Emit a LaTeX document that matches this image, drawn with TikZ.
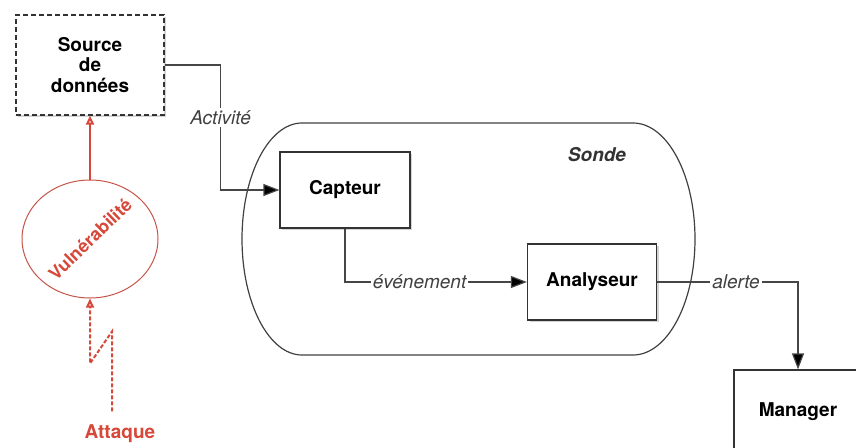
\documentclass[tikz,border=0pt]{standalone}
\usepackage{fontspec}
\setmainfont{TeX Gyre Heros}
\usetikzlibrary{arrows.meta,shapes.geometric,shadows}
\definecolor{vulnred}{RGB}{214,72,58}
\definecolor{linegray}{RGB}{70,70,70}

\begin{document}
\begin{tikzpicture}[x=1pt,y=-1pt,
	bloc/.style={draw=black!80,line width=1.2pt,fill=white,align=center,
		font=\fontsize{19}{20.5}\selectfont\bfseries,
		drop shadow={shadow xshift=2pt,shadow yshift=-2pt,opacity=0.35}},
	fleche/.style={draw=linegray,line width=1.2pt,-{Triangle[length=16pt,width=12pt,fill=black]}},
	lab/.style={fill=white,inner sep=2pt,text=black!75,font=\fontsize{19}{20}\selectfont\itshape},
	rouge/.style={vulnred,line width=2pt}]
		\useasboundingbox (0,0) rectangle (856,447);
		\clip (0,0) rectangle (856,447);
		% la sonde
		\draw[black!75,line width=1.2pt] (302,123) -- (633,123) arc[start angle=-90,end angle=90,x radius=62,y radius=116]
			-- (302,355) arc[start angle=90,end angle=270,x radius=60,y radius=116] -- cycle;
		\node[text=black!80,font=\fontsize{19}{20}\selectfont\bfseries\itshape] (sonde) at (597,155) {Sonde};
		% les blocs
		\node[bloc,dash pattern=on 5pt off 3pt,minimum width=148pt,minimum height=100pt] (source) at (90,65) {Source\\de\\données};
		\node[bloc,minimum width=130pt,minimum height=76pt] (capteur) at (345,190) {Capteur};
		\node[bloc,minimum width=129pt,minimum height=76pt] (analyseur) at (592,282) {Analyseur};
		\node[bloc,minimum width=128pt,minimum height=84pt] (manager) at (798,412) {Manager};
		% les fleches
		\draw[fleche] (source.east) -- ++(56,0) |- node[lab,pos=0.21] (lactiv) {Activité} (capteur.west);
		\draw[fleche] (capteur.south) |- node[lab,pos=0.705] (levt) {événement} (analyseur.west);
		\draw[fleche] (analyseur.east) -| node[lab,pos=0.28] (lalerte) {alerte} (manager.north);
		% attaque et vulnerabilite
		\node[ellipse,draw=vulnred!80!gray,line width=1pt,minimum width=136pt,minimum height=118pt,inner sep=0pt] (vuln) at (90,239) {};
		\node[rotate=44,text=vulnred,font=\fontsize{18}{20}\selectfont\bfseries] (vulntxt) at (vuln.center) {Vulnérabilité};
		\node[text=vulnred,font=\fontsize{19}{20}\selectfont\bfseries] (attaque) at (120,434) {Attaque};
		\draw[rouge,-{Triangle[open,length=9pt,width=8pt]}] (vuln.north) -- (source.south);
		\draw[rouge,dash pattern=on 4pt off 2pt,-{Triangle[open,length=9pt,width=8pt]}] (attaque.north) ++(-8,-10) -- ++(0,-80) -- ++(-22,32) -- (vuln.south);
	\end{tikzpicture}
\end{document}
